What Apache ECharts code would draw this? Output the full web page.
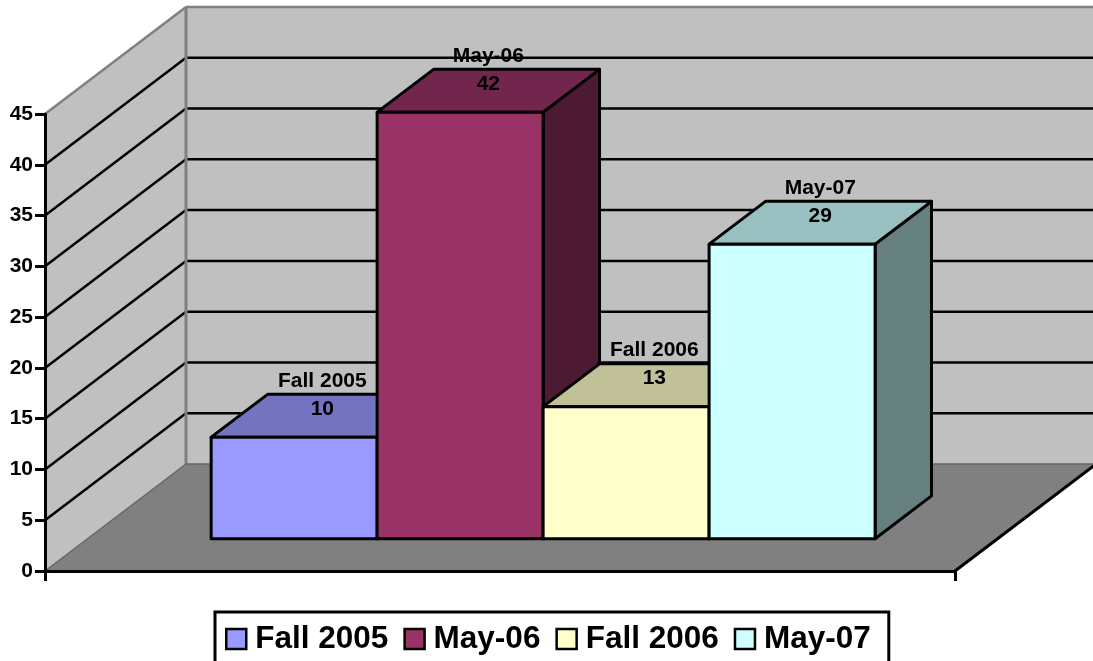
<!DOCTYPE html>
<html>
<head>
<meta charset="utf-8">
<style>
  html, body { margin: 0; padding: 0; background: #fff; overflow: hidden; }
  #chart { width: 1093px; height: 661px; }
</style>
<script src="https://cdn.jsdelivr.net/npm/echarts@6/dist/echarts.min.js"></script>
</head>
<body>
<div id="chart"></div>
<script>
const categories = ['Fall 2005', 'May-06', 'Fall 2006', 'May-07']
const values = [10, 42, 13, 29]
const gridValues = [5, 10, 15, 20, 25, 30, 35, 40]
const barColors = ['#9999FF', '#993366', '#FFFFCC', '#CCFFFF']
const topColors = ['#7373C0', '#73264D', '#C0C099', '#99C0C0']
const sideColors = ['#4D4D80', '#4D1A33', '#808066', '#668080']

const font = 'Liberation Sans, Arial, sans-serif'
const depthX = 141
const depthY = -107
const barStart = 0.1358
const barWidth = 0.1824
const barFront = 0.302
const barBack = 0.702

// front plane point pushed back by depth z (0..1)
function project(api, x, v, z) {
  const p = api.coord([x, v])
  return [p[0] + depthX * z, p[1] + depthY * z]
}

function poly(points, fill, stroke, width) {
  return {
    type: 'polygon',
    shape: { points: points },
    style: { fill: fill, stroke: stroke || null, lineWidth: width || 0, lineJoin: 'round' }
  }
}

function line(a, b, color, width) {
  return {
    type: 'line',
    shape: { x1: a[0], y1: a[1], x2: b[0], y2: b[1] },
    style: { stroke: color, lineWidth: width }
  }
}

function renderWalls(params, api) {
  const p = (x, v, z) => project(api, x, v, z)
  const children = [
    poly([p(0, 0, 0), p(0, 0, 1), p(0, 45, 1), p(0, 45, 0)], '#C0C0C0'),
    poly([p(0, 0, 1), p(1, 0, 1), p(1, 45, 1), p(0, 45, 1)], '#C0C0C0'),
    poly([p(0, 0, 0), p(1, 0, 0), p(1, 0, 1), p(0, 0, 1)], '#808080')
  ]
  gridValues.forEach(v => {
    children.push(line(p(0, v, 0), p(0, v, 1), '#000', 2.5))
    children.push(line(p(0, v, 1), p(1, v, 1), '#000', 2.5))
  })
  children.push(line(p(0, 45, 0), p(0, 45, 1), '#808080', 2.5))
  children.push(line(p(0, 45, 1), p(1, 45, 1), '#808080', 2.5))
  children.push(line(p(0, 0, 1), p(0, 45, 1), '#808080', 3))
  children.push(line(p(0, 0, 0), p(0, 0, 1), '#666', 1.5))
  children.push(line(p(0, 0, 1), p(1, 0, 1), '#666', 1.5))
  children.push(line(p(1, 0, 0), p(1, 0, 1), '#000', 3))
  return { type: 'group', children: children }
}

function renderBar(params, api) {
  const i = api.value(0)
  const v = api.value(1)
  const x0 = barStart + barWidth * i
  const x1 = x0 + barWidth
  const q = (x, val, z) => project(api, x, val, z)
  const stroke = '#000'
  const fl = q(x0, 0, barFront)
  const fr = q(x1, 0, barFront)
  const tl = q(x0, v, barFront)
  const tr = q(x1, v, barFront)
  const bl = q(x0, v, barBack)
  const br = q(x1, v, barBack)
  const sb = q(x1, 0, barBack)
  const cx = (tl[0] + br[0]) / 2
  return {
    type: 'group',
    children: [
      poly([tr, fr, sb, br], sideColors[i], stroke, 3),
      poly([tl, tr, br, bl], topColors[i], stroke, 3),
      poly([fl, fr, tr, tl], barColors[i], stroke, 3),
      {
        type: 'text',
        style: {
          x: cx, y: tl[1] - 56, text: categories[i], fill: '#000',
          font: 'bold 21px ' + font, textAlign: 'center', textVerticalAlign: 'middle'
        }
      },
      {
        type: 'text',
        style: {
          x: cx, y: tl[1] - 28, text: String(values[i]), fill: '#000',
          font: 'bold 21px ' + font, textAlign: 'center', textVerticalAlign: 'middle'
        }
      }
    ]
  }
}

const barSeries = categories.map((name, i) => ({
  name: name,
  type: 'custom',
  renderItem: renderBar,
  itemStyle: { color: barColors[i] },
  data: [[i, values[i]]],
  z: 3 + i,
  silent: true
}))

const myChart = echarts.init(document.getElementById('chart'), null, { renderer: 'canvas' })
myChart.setOption({
  animation: false,
  backgroundColor: '#fff',
  grid: { left: 45, top: 114, width: 910, height: 457 },
  legend: {
    left: 215,
    top: 612,
    data: categories,
    icon: 'rect',
    itemWidth: 20,
    itemHeight: 20,
    itemGap: 15,
    padding: [11, 18, 20, 10],
    borderColor: '#000',
    borderWidth: 3,
    itemStyle: { borderColor: '#000', borderWidth: 2.5 },
    textStyle: { fontFamily: font, fontWeight: 'bold', fontSize: 31.5, color: '#000', padding: [0, 0, 0, 4] },
    selectedMode: false
  },
  xAxis: {
    type: 'value',
    min: 0,
    max: 1,
    interval: 1,
    z: 10,
    axisLine: { show: true, onZero: false, lineStyle: { color: '#000', width: 3 } },
    axisTick: { show: true, length: 10, lineStyle: { color: '#000', width: 3 } },
    axisLabel: { show: false },
    splitLine: { show: false }
  },
  yAxis: {
    type: 'value',
    min: 0,
    max: 45,
    interval: 5,
    z: 10,
    axisLine: { show: true, onZero: false, lineStyle: { color: '#000', width: 3 } },
    axisTick: { show: true, length: 10, lineStyle: { color: '#000', width: 3 } },
    axisLabel: { color: '#000', fontFamily: font, fontWeight: 'bold', fontSize: 21, margin: 12 },
    splitLine: { show: false }
  },
  series: [
    { type: 'custom', renderItem: renderWalls, data: [[0, 0]], z: 1, silent: true }
  ].concat(barSeries)
})
</script>
</body>
</html>
